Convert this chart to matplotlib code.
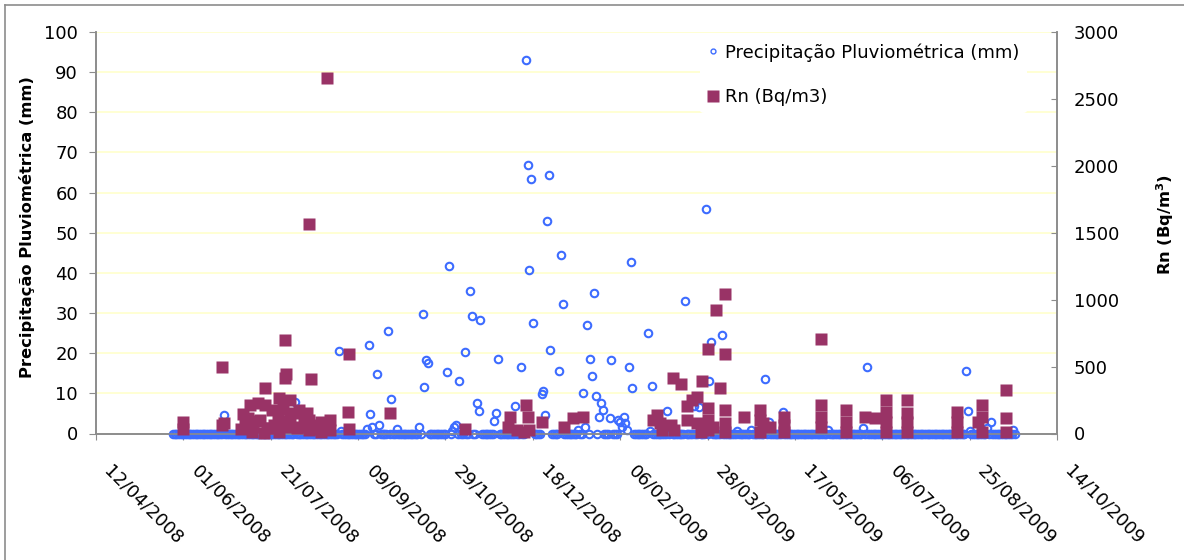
import matplotlib
matplotlib.use("Agg")
import matplotlib.pyplot as plt
from matplotlib.transforms import ScaledTranslation
from matplotlib.lines import Line2D
import pandas as pd

# ---------------- data ----------------
# daily precipitation record (days not listed below are 0 mm)
prec_start = "2008-05-26"
prec_end = "2009-09-20"
prec_dates = [
    "2008-06-24", "2008-08-04", "2008-08-29", "2008-08-30", "2008-09-14", "2008-09-15",
    "2008-09-16", "2008-09-17", "2008-09-20", "2008-09-21", "2008-09-26", "2008-09-28",
    "2008-10-01", "2008-10-14", "2008-10-16", "2008-10-17", "2008-10-18", "2008-10-19",
    "2008-10-30", "2008-10-31", "2008-11-02", "2008-11-03", "2008-11-04", "2008-11-06",
    "2008-11-09", "2008-11-12", "2008-11-13", "2008-11-16", "2008-11-17", "2008-11-18",
    "2008-11-26", "2008-11-27", "2008-11-28", "2008-12-08", "2008-12-11", "2008-12-14",
    "2008-12-15", "2008-12-16", "2008-12-17", "2008-12-18", "2008-12-23", "2008-12-24",
    "2008-12-25", "2008-12-26", "2008-12-27", "2008-12-28", "2009-01-02", "2009-01-03",
    "2009-01-04", "2009-01-13", "2009-01-16", "2009-01-17", "2009-01-18", "2009-01-20",
    "2009-01-21", "2009-01-22", "2009-01-23", "2009-01-25", "2009-01-26", "2009-01-27",
    "2009-01-31", "2009-02-01", "2009-02-05", "2009-02-06", "2009-02-07", "2009-02-08",
    "2009-02-09", "2009-02-10", "2009-02-11", "2009-02-12", "2009-02-13", "2009-02-22",
    "2009-02-23", "2009-02-24", "2009-03-05", "2009-03-07", "2009-03-15", "2009-03-20",
    "2009-03-23", "2009-03-27", "2009-03-29", "2009-03-30", "2009-04-05", "2009-04-14",
    "2009-04-22", "2009-04-30", "2009-05-02", "2009-05-10", "2009-06-05", "2009-06-25",
    "2009-06-27", "2009-08-23", "2009-08-24", "2009-08-25", "2009-09-04", "2009-09-06",
    "2009-09-19",
]
prec_vals = [
    4.5, 7.8, 20.5, 0.6, 1.0, 22.1,
    4.8, 1.6, 14.9, 2.0, 25.5, 8.6,
    1.0, 1.5, 29.8, 11.6, 18.4, 17.5,
    15.2, 41.6, 0.5, 1.7, 2.2, 13.1,
    20.3, 35.6, 29.2, 7.7, 5.5, 28.3,
    3.0, 5.1, 18.6, 6.8, 16.5, 93.0,
    66.8, 40.6, 63.5, 27.5, 9.8, 10.6,
    4.7, 52.9, 64.3, 20.7, 15.6, 44.4,
    32.2, 0.9, 10.2, 1.7, 27.1, 18.6,
    14.4, 35.1, 9.3, 4.2, 7.7, 5.9,
    3.9, 18.2, 3.4, 2.9, 1.7, 4.2,
    2.5, 0.9, 16.5, 42.7, 11.4, 25.0,
    0.5, 11.8, 5.6, 2.1, 33.0, 6.8,
    6.7, 55.8, 13.2, 22.8, 24.5, 0.6,
    0.9, 13.5, 2.9, 5.3, 0.9, 1.3,
    16.5, 15.6, 5.5, 0.5, 1.4, 2.9,
    0.9,
]

rn_dates = [
    "2008-06-01", "2008-06-01", "2008-06-23", "2008-06-23", "2008-06-24", "2008-07-04",
    "2008-07-05", "2008-07-08", "2008-07-09", "2008-07-11", "2008-07-14", "2008-07-15",
    "2008-07-17", "2008-07-18", "2008-07-18", "2008-07-21", "2008-07-22", "2008-07-25",
    "2008-07-26", "2008-07-26", "2008-07-29", "2008-07-29", "2008-07-30", "2008-07-30",
    "2008-08-01", "2008-08-01", "2008-08-06", "2008-08-07", "2008-08-11", "2008-08-12",
    "2008-08-12", "2008-08-12", "2008-08-13", "2008-08-19", "2008-08-19", "2008-08-22",
    "2008-08-24", "2008-08-24", "2008-09-03", "2008-09-04", "2008-09-04", "2008-09-27",
    "2008-11-09", "2008-12-04", "2008-12-05", "2008-12-09", "2008-12-13", "2008-12-14",
    "2008-12-15", "2008-12-16", "2008-12-23", "2009-01-05", "2009-01-10", "2009-01-16",
    "2009-02-25", "2009-02-27", "2009-03-01", "2009-03-02", "2009-03-07", "2009-03-08",
    "2009-03-09", "2009-03-13", "2009-03-16", "2009-03-16", "2009-03-19", "2009-03-22",
    "2009-03-22", "2009-03-24", "2009-03-25", "2009-03-28", "2009-03-28", "2009-03-28",
    "2009-03-28", "2009-03-31", "2009-04-02", "2009-04-04", "2009-04-07", "2009-04-07",
    "2009-04-07", "2009-04-07", "2009-04-07", "2009-04-18", "2009-04-27", "2009-04-27",
    "2009-04-27", "2009-04-29", "2009-05-03", "2009-05-11", "2009-05-11", "2009-05-11",
    "2009-06-01", "2009-06-01", "2009-06-01", "2009-06-01", "2009-06-15", "2009-06-15",
    "2009-06-15", "2009-06-26", "2009-07-02", "2009-07-08", "2009-07-08", "2009-07-08",
    "2009-07-08", "2009-07-20", "2009-07-20", "2009-07-20", "2009-07-20", "2009-08-18",
    "2009-08-18", "2009-08-18", "2009-08-30", "2009-09-01", "2009-09-01", "2009-09-01",
    "2009-09-15", "2009-09-15", "2009-09-15",
    "2008-07-06", "2008-07-10", "2008-07-13", "2008-07-19", "2008-07-23", "2008-07-27",
    "2008-08-03", "2008-08-05", "2008-08-09", "2008-08-15", "2008-08-17", "2008-07-28",
]
rn_vals = [
    86, 34, 499, 63, 81, 36,
    143, 114, 215, 51, 230, 101,
    5, 342, 215, 39, 176, 126,
    268, 13, 699, 415, 445, 51,
    250, 101, 176, 51, 151, 26,
    101, 1565, 410, 88, 13, 2656,
    99, 26, 163, 594, 34, 153,
    34, 51, 126, 26, 13, 213,
    126, 26, 88, 51, 113, 126,
    101, 138, 76, 26, 63, 417,
    26, 370, 205, 101, 250, 76,
    270, 13, 392, 631, 188, 101,
    26, 51, 923, 342, 1042, 594,
    176, 76, 13, 126, 176, 101,
    13, 76, 51, 126, 60, 13,
    706, 213, 126, 51, 176, 88,
    13, 126, 113, 250, 163, 88,
    13, 250, 151, 88, 13, 163,
    88, 13, 88, 213, 126, 13,
    325, 113, 13,
    60, 13, 90, 40, 60, 90,
    150, 40, 90, 60, 30, 180,
]

x_tick_labels = ["12/04/2008", "01/06/2008", "21/07/2008", "09/09/2008", "29/10/2008",
                 "18/12/2008", "06/02/2009", "28/03/2009", "17/05/2009", "06/07/2009",
                 "25/08/2009", "14/10/2009"]
left_ticks = [0, 10, 20, 30, 40, 50, 60, 70, 80, 90, 100]
right_ticks = [0, 500, 1000, 1500, 2000, 2500, 3000]

label_prec = "Precipitação Pluviométrica (mm)"
label_rn = "Rn (Bq/m3)"

# ---------------- build series ----------------
prec = pd.Series(0.0, index=pd.date_range(prec_start, prec_end, freq="D"))
prec.loc[pd.to_datetime(prec_dates)] = prec_vals
rn_x = pd.to_datetime(rn_dates)
tick_dates = pd.to_datetime(x_tick_labels, format="%d/%m/%Y")

# ---------------- figure ----------------
W, H = 1184, 560
fig = plt.figure(figsize=(W / 100, H / 100), dpi=100)
fig.patch.set_facecolor("white")

L, R, T, B = 96, 1057, 32, 433.5
ax = fig.add_axes([L / W, 1 - B / H, (R - L) / W, (B - T) / H])
ax2 = ax.twinx()
ax2.patch.set_visible(False)

spine_col = "#8c8c8c"
blue_edge = "#3d6cff"
rn_col = "#993366"

ax.plot(prec.index, prec.values, linestyle="none", marker="o", ms=5.4,
        mec=blue_edge, mfc="none", mew=1.5, clip_on=False, zorder=3,
        label=label_prec)
ax2.plot(rn_x, rn_vals, linestyle="none", marker="s", ms=8.8,
         color=rn_col, mec="none", clip_on=False, zorder=3, label=label_rn)

ax.set_xlim(tick_dates[0], tick_dates[-1])
ax.set_ylim(0, 100)
ax2.set_ylim(0, 3000)
ax.set_xticks(tick_dates)
ax.set_xticklabels(x_tick_labels)
ax.set_yticks(left_ticks)
ax2.set_yticks(right_ticks)

ax.set_axisbelow(True)
ax.yaxis.grid(True, color="#ffffcc", lw=1.2)
ax.xaxis.grid(False)

for a in (ax, ax2):
    a.spines["top"].set_visible(False)
    for s in ("left", "right", "bottom"):
        a.spines[s].set_color(spine_col)
        a.spines[s].set_linewidth(1.2)

ax.tick_params(axis="y", direction="out", length=5, color=spine_col, labelsize=13, pad=8)
ax2.tick_params(axis="y", direction="in", length=4, color=spine_col, labelsize=13, pad=12)
ax.tick_params(axis="x", direction="out", length=4, color=spine_col, labelsize=13, pad=0)

offset = ScaledTranslation(11 / 100, -29 / 100, fig.dpi_scale_trans)
for lab in ax.get_xticklabels():
    lab.set_rotation(-45)
    lab.set_rotation_mode("anchor")
    lab.set_ha("left")
    lab.set_va("center")
    lab.set_transform(lab.get_transform() + offset)

# axis titles
fig.text(27 / W, 1 - 227 / H, label_prec, rotation=90, ha="center", va="center",
         fontsize=11.7, fontweight="bold")
fig.text(1165 / W, 1 - 225 / H, "Rn (Bq/m$^\\mathregular{3}$)", rotation=90, ha="center",
         va="center", fontsize=11.7, fontweight="bold")

# legend
h1, l1 = ax.get_legend_handles_labels()
h2, l2 = ax2.get_legend_handles_labels()
leg = ax2.legend(h1 + h2, l1 + l2, loc="upper left",
                 bbox_to_anchor=(700 / W, 1 - 36 / H), bbox_transform=fig.transFigure,
                 frameon=True, fontsize=13, handlelength=0.6, handletextpad=0.4,
                 labelspacing=1.45, borderpad=0.4, borderaxespad=0)
leg.get_frame().set_facecolor("white")
leg.get_frame().set_edgecolor("none")
leg.get_frame().set_alpha(1)
leg.legend_handles[0].set_markersize(3.5)
leg.legend_handles[0].set_markeredgewidth(1.0)
leg.legend_handles[1].set_markersize(8)

# chart outer border (top and left edge visible)
fig.add_artist(Line2D([5 / W, 1.0], [1 - 5 / H, 1 - 5 / H], color="#8c8c8c", lw=1.2,
                      transform=fig.transFigure))
fig.add_artist(Line2D([5 / W, 5 / W], [0.0, 1 - 5 / H], color="#8c8c8c", lw=1.2,
                      transform=fig.transFigure))

fig.savefig("out.png", dpi=100, facecolor="white")
